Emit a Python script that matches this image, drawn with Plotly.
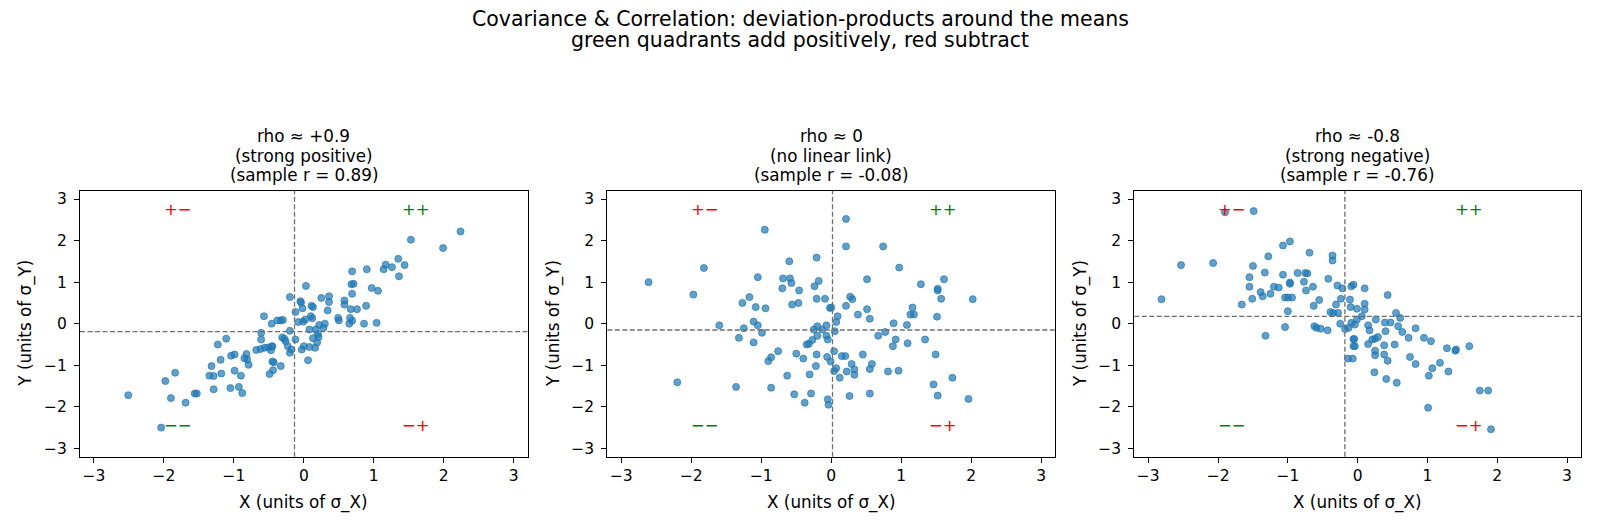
import numpy as np
import plotly.graph_objects as go

# ---------------- data ----------------
x_pos = [-2.51, -2.04, -1.98, -1.90, -1.84, -1.69, -1.56, -1.53, -1.32, -1.35,
         -1.29, -1.29, -1.23, -1.19, -1.18, -1.11, -1.04, -0.99, -0.99, -1.05,
         -0.93, -0.90, -0.88, -0.85, -0.82, -0.81, -0.79, -0.68, -0.62, -0.61,
         -0.61, -0.57, -0.56, -0.51, -0.46, -0.45, -0.47, -0.45, -0.43, -0.44,
         -0.49, -0.46, -0.38, -0.33, -0.30, -0.33, -0.31, -0.28, -0.26, -0.23,
         -0.20, -0.20, -0.20, -0.18, -0.12, -0.12, -0.08, -0.05, -0.04, -0.02,
         -0.01, 0.00, -0.03, 0.03, 0.02, 0.06, 0.08, 0.08, 0.10, 0.11,
         0.13, 0.12, 0.13, 0.16, 0.17, 0.19, 0.20, 0.22, 0.21, 0.25,
         0.28, 0.30, 0.34, 0.36, 0.36, 0.49, 0.50, 0.58, 0.58, 0.65,
         0.66, 0.67, 0.69, 0.68, 0.71, 0.69, 0.69, 0.76, 0.86, 0.89,
         0.90, 0.97, 1.06, 1.04, 1.14, 1.17, 1.26, 1.35, 1.36, 1.44,
         1.53, 1.99, 2.24]
y_pos = [-1.72, -2.50, -1.38, -1.79, -1.18, -1.90, -1.68, -1.68, -1.02, -1.25,
         -1.26, -1.58, -0.50, -0.87, -1.20, -0.36, -0.77, -0.74, -1.13, -1.55,
         -1.52, -1.25, -1.67, -0.83, -0.73, -0.86, -0.99, -0.63, -0.61, -0.38,
         -0.22, 0.18, -0.58, -0.57, -0.55, -0.54, -0.64, -0.91, -0.93, -1.12,
         -1.21, 0.00, 0.08, 0.08, 0.09, -1.02, -0.33, -0.36, -0.42, -0.54,
         -0.17, 0.64, -0.70, -0.62, -0.38, 0.28, 0.04, 0.54, 0.51, 0.37,
         0.05, -0.54, -0.62, 0.91, 0.10, -0.88, -0.56, -0.14, 0.18, 0.43,
         0.40, 0.13, -0.35, -0.58, -0.14, -0.45, -0.25, -0.03, -0.32, 0.62,
         -0.10, 0.00, 0.32, 0.52, 0.66, 0.14, 0.08, 0.56, 0.46, 0.00,
         0.14, 0.35, 0.07, 0.95, 0.96, 0.72, 1.26, 0.35, 0.00, 0.43,
         1.31, 0.86, 0.79, 0.02, 1.31, 1.42, 1.36, 1.56, 1.14, 1.41,
         2.02, 1.82, 2.22]

x_zero = [-2.61, -2.20, -1.97, -1.82, -1.60, -1.36, -1.32, -1.27, -1.25, -1.17,
          -1.11, -1.11, -1.08, -1.05, -1.05, -0.99, -0.95, -0.94, -0.90, -0.86,
          -0.86, -0.76, -0.70, -0.69, -0.63, -0.60, -0.59, -0.57, -0.56, -0.53,
          -0.50, -0.47, -0.46, -0.40, -0.38, -0.35, -0.32, -0.31, -0.29, -0.27,
          -0.25, -0.24, -0.22, -0.21, -0.21, -0.21, -0.20, -0.20, -0.18, -0.13,
          -0.09, -0.07, -0.07, -0.06, -0.05, -0.02, -0.04, -0.05, -0.01,
          0.21, 0.21, 0.74, 0.97, 0.51, 1.28, 1.61, 1.52, 1.52, 1.57,
          2.02, 0.27, 0.30, 0.21, 0.00, 0.51, 0.38, 0.55, 1.16, 1.13,
          1.18, 1.51, 0.09, 0.07, 0.89, 1.08, 0.77, 0.67, 0.92, 0.88,
          1.09, 1.34, 0.05, 0.04, 0.20, 0.15, 0.45, 0.29, 0.58, 0.55,
          0.33, 0.33, 0.22, 0.12, 0.04, 0.07, 0.81, 0.96, 1.49, 1.73,
          1.46, 1.52, 1.96, 0.26, 0.55]
y_zero = [1.00, -1.41, 0.70, 1.34, -0.04, -1.52, -0.34, 0.50, -0.11, 0.64,
          -0.45, 0.05, 0.40, 1.12, -0.04, -0.22, 2.26, 0.37, -0.90, -0.81,
          -1.54, -0.66, 0.85, 1.09, -1.25, 1.50, 1.09, 0.98, 0.46, -1.70,
          -0.72, 0.50, 0.80, -0.84, -1.90, -0.50, -0.48, -1.22, -1.68, -0.39,
          -0.14, 0.90, -1.02, 0.60, -0.74, 1.59, -0.29, -0.06, 1.03, -0.14,
          0.60, -0.04, -0.29, -0.80, -1.82, 0.38, -1.95, -0.38, -0.91,
          2.52, 1.86, 1.86, 1.35, 1.07, 0.95, 1.07, 0.84, 0.80, 0.60,
          0.59, 0.65, 0.59, 0.43, 0.39, 0.35, 0.22, 0.12, 0.39, 0.22,
          0.22, 0.17, 0.18, 0.04, 0.01, -0.03, -0.20, -0.29, -0.38, -0.54,
          -0.47, -0.38, -0.18, -0.66, -0.78, -0.78, -0.74, -0.97, -0.97, -1.09,
          -1.10, -1.23, -1.15, -1.30, -1.14, -1.07, -1.15, -1.13, -0.74, -1.30,
          -1.46, -1.73, -1.81, -1.74, -1.68]

x_neg = [-2.81, -2.53, -2.07, -1.90, -1.49, -1.66, -1.55, -1.55, -1.51, -1.50,
         -1.39, -1.36, -1.33, -1.32, -1.28, -1.25, -1.20, -1.13, -1.07, -1.07,
         -1.04, -1.04, -1.00, -0.97, -0.97, -0.97, -1.00, -0.94, -0.86, -0.77,
         -0.75, -0.72, -0.74, -0.69, -0.64, -0.63, -0.62, -0.59, -0.55, -0.53,
         -0.43, -0.42, -0.39, -0.36, -0.36, -0.35, -0.31, -0.29, -0.28, -0.25,
         -0.24, -0.22, -0.18, -0.14, -0.07, -0.11, -0.09, -0.10, -0.06, -0.06,
         -0.09, -0.13,
         -0.06, 0.10, 0.43, 0.10, 0.10, -0.01, 0.55, 0.61, 0.06, -0.01,
         0.26, 0.39, 0.47, -0.04, 0.15, 0.17, 0.40, 0.58, 0.64, 0.83,
         0.73, 0.95, 1.05, -0.05, -0.04, 0.21, 0.25, 0.29, 0.15, 0.38,
         0.53, 0.25, 0.25, 0.38, 0.43, 0.24, 0.41, 0.56, 0.75, 0.83,
         1.02, 1.07, 1.18, 1.30, 1.28, 1.40, 1.41, 1.60, 1.75, 1.87,
         1.01, 1.91]
y_neg = [0.59, 1.41, 1.46, 2.68, 2.71, 0.46, 1.12, 0.89, 0.60, 1.39,
         0.76, 0.66, 1.23, -0.29, 1.62, 0.72, 0.89, 0.87, 1.88, 1.18,
         0.63, -0.08, 0.30, 1.98, 0.96, 0.99, 0.63, 0.63, 1.22, 1.01,
         1.22, 1.21, 0.80, 1.71, 0.89, 0.43, -0.06, -0.10, 0.57, -0.12,
         -0.16, 1.08, 0.28, 1.64, 1.52, 0.26, 0.46, 0.92, 0.26, 0.00,
         0.60, 0.85, -0.13, -0.84, -0.84, 0.58, 0.90, 0.40, -0.37, -0.54,
         0.02, -0.10,
         0.94, 0.85, 0.69, 0.48, 0.34, 0.36, 0.26, 0.14, 0.18, 0.10,
         0.10, 0.03, 0.03, -0.02, -0.04, -0.16, -0.18, -0.06, -0.20, -0.11,
         -0.34, -0.34, -0.42, -0.37, -0.54, -0.38, -0.36, -0.32, -0.49, -0.52,
         -0.50, -0.65, -0.76, -0.74, -0.89, -1.17, -1.33, -1.42, -0.80, -0.97,
         -1.25, -1.07, -0.94, -1.15, -0.59, -0.65, -0.62, -0.54, -1.61, -1.61,
         -2.02, -2.54]

panel_titles = [
    ["rho ≈ +0.9", "(strong positive)", "(sample r = 0.89)"],
    ["rho ≈ 0", "(no linear link)", "(sample r = -0.08)"],
    ["rho ≈ -0.8", "(strong negative)", "(sample r = -0.76)"],
]
tick_vals = [-3, -2, -1, 0, 1, 2, 3]
tick_text = ["−3", "−2", "−1", "0", "1", "2", "3"]
quad_labels = [("+−", "red"), ("++", "green"), ("−−", "green"), ("−+", "red")]
suptitle = ["Covariance & Correlation: deviation-products around the means",
            "green quadrants add positively, red subtract"]
x_label = "X (units of σ_X)"
y_label = "Y (units of σ_Y)"

# ---------------- layout helpers ----------------
W, H = 1600, 529
FONT = "DejaVu Sans"
def fx(p):
    return p / W
def fy(p):
    return 1 - p / H

x_domains_px = [(80, 527.7), (607.3, 1055.3), (1134.3, 1581)]
y_top_px, y_bot_px = 190.7, 456.7

datasets = [(x_pos, y_pos), (x_zero, y_zero), (x_neg, y_neg)]

fig = go.Figure()
annotations = []
shapes = []
layout_axes = {}

for i, ((xs, ys), titles, (xl, xr)) in enumerate(zip(datasets, panel_titles, x_domains_px)):
    n = "" if i == 0 else str(i + 1)
    xa, ya = "x" + n, "y" + n
    fig.add_trace(go.Scatter(
        x=xs, y=ys, mode="markers", xaxis=xa, yaxis=ya, showlegend=False,
        marker=dict(size=7, color="rgba(31,119,180,0.7)",
                    line=dict(color="rgba(31,119,180,0.7)", width=1)),
        hoverinfo="skip"))
    common = dict(range=[-3.2, 3.2], tickvals=tick_vals, ticktext=tick_text,
                  showgrid=False, zeroline=False, showline=True, mirror=True,
                  linecolor="black", linewidth=1.1, ticks="outside", ticklen=5,
                  tickwidth=1.1, tickcolor="black",
                  tickfont=dict(family=FONT, size=15.5, color="black"))
    layout_axes["xaxis" + n] = dict(domain=[fx(xl), fx(xr)], anchor=ya, **common)
    layout_axes["yaxis" + n] = dict(domain=[fy(y_bot_px), fy(y_top_px)], anchor=xa,
                                    ticklabelstandoff=4, **common)

    mx, my = float(np.mean(xs)), float(np.mean(ys))
    dash = dict(color="rgba(110,110,110,1)", width=1.3, dash="5px,2.5px")
    shapes.append(dict(type="line", xref=xa, yref=ya + " domain", x0=mx, x1=mx,
                       y0=0, y1=1, line=dash, layer="above"))
    shapes.append(dict(type="line", xref=xa + " domain", yref=ya, x0=0, x1=1,
                       y0=my, y1=my, line=dash, layer="above"))

    # panel title lines
    cx = fx((xl + xr) / 2)
    for txt, ypx in zip(titles, [136, 155.5, 175]):
        annotations.append(dict(text=txt, x=cx, y=fy(ypx), xref="paper", yref="paper",
                                xanchor="center", yanchor="middle", showarrow=False,
                                font=dict(family=FONT, size=16.8, color="black")))
    # axis titles
    annotations.append(dict(text=x_label, x=cx, y=fy(502), xref="paper", yref="paper",
                            xanchor="center", yanchor="middle", showarrow=False,
                            font=dict(family=FONT, size=16.8, color="black")))
    annotations.append(dict(text=y_label, x=fx(xl - 54), y=fy((y_top_px + y_bot_px) / 2),
                            xref="paper", yref="paper", textangle=-90,
                            xanchor="center", yanchor="middle", showarrow=False,
                            font=dict(family=FONT, size=16.8, color="black")))
    # quadrant labels
    for (txt, col), (qx, qy) in zip(quad_labels, [(0.219, 0.928), (0.75, 0.928),
                                                  (0.219, 0.116), (0.75, 0.116)]):
        annotations.append(dict(text=txt, x=qx, y=qy, xref=xa + " domain",
                                yref=ya + " domain", xanchor="center", yanchor="middle",
                                showarrow=False,
                                font=dict(family=FONT, size=16.5, color=col)))

for txt, ypx in zip(suptitle, [19, 40]):
    annotations.append(dict(text=txt, x=0.5, y=fy(ypx), xref="paper", yref="paper",
                            xanchor="center", yanchor="middle", showarrow=False,
                            font=dict(family=FONT, size=20.5, color="black")))

fig.update_layout(
    width=W, height=H, margin=dict(l=0, r=0, t=0, b=0),
    paper_bgcolor="white", plot_bgcolor="white",
    font=dict(family=FONT, color="black"),
    annotations=annotations, shapes=shapes, showlegend=False,
    **layout_axes)

fig.write_html("out.html")
